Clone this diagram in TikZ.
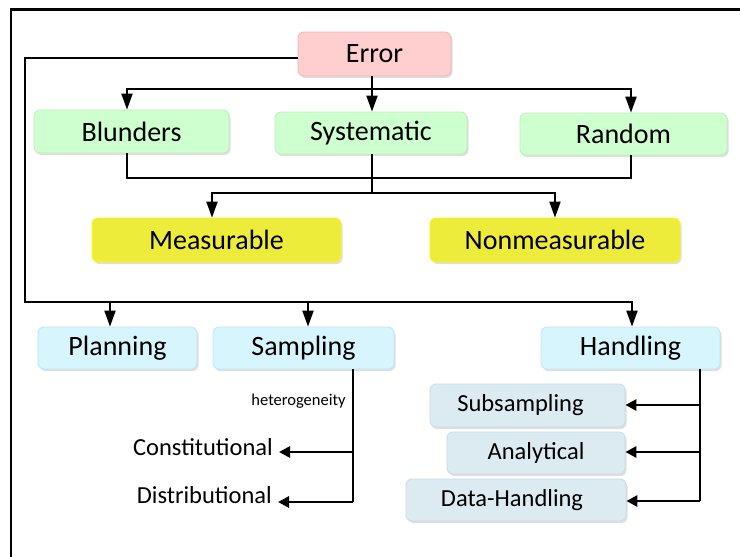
\documentclass[tikz,border=0pt]{standalone}
\usepackage{fontspec}
\setmainfont{Carlito}
\usetikzlibrary{arrows.meta,shadows}

\definecolor{errfill}{RGB}{255,206,206}
\definecolor{errdraw}{RGB}{240,180,180}
\definecolor{grnfill}{RGB}{206,255,206}
\definecolor{grndraw}{RGB}{190,235,190}
\definecolor{yelfill}{RGB}{238,236,58}
\definecolor{yeldraw}{RGB}{250,245,20}
\definecolor{cyafill}{RGB}{214,245,253}
\definecolor{cyadraw}{RGB}{195,230,240}
\definecolor{subfill}{RGB}{220,235,241}
\definecolor{subdraw}{RGB}{200,220,228}

\tikzset{
  box/.style={rectangle, rounded corners=6pt, inner sep=0pt, line width=0.8pt,
    drop shadow={shadow xshift=1.5pt, shadow yshift=-2pt, opacity=0.25},
    font=\fontsize{28}{30}\selectfont},
  errbox/.style={box, fill=errfill, draw=errdraw},
  grnbox/.style={box, fill=grnfill, draw=grndraw},
  yelbox/.style={box, fill=yelfill, draw=yeldraw},
  cyabox/.style={box, fill=cyafill, draw=cyadraw},
  subbox/.style={box, fill=subfill, draw=subdraw, font=\fontsize{24.5}{26}\selectfont},
  plain/.style={inner sep=0pt, font=\fontsize{24.5}{26}\selectfont},
  line/.style={line width=2pt},
  arr/.style={line width=2pt, -{Triangle[length=16pt,width=11pt]}},
  harr/.style={line width=2.8pt, -{Triangle[length=11pt,width=11pt]}},
}

\begin{document}
\begin{tikzpicture}[x=1pt, y=-1pt]
\useasboundingbox (0,0) rectangle (740,557);
\fill[white] (0,0) rectangle (740,557);

% outer frame
\draw[line width=2.2pt] (11,557) -- (11,9.5) -- (740,9.5);

% boxes
\node[errbox, minimum width=153pt, minimum height=44pt] (err) at (374.5,54) {Error};

\node[grnbox, minimum width=195pt, minimum height=43pt] (blu) at (131.5,131.5) {Blunders};
\node[grnbox, minimum width=192pt, minimum height=42pt] (sys) at (371,133) {Systematic};
\node[grnbox, minimum width=207pt, minimum height=42pt] (ran) at (623.5,134) {Random};

\node[yelbox, minimum width=249pt, minimum height=44pt] (mea) at (216.5,240) {Measurable};
\node[yelbox, minimum width=250pt, minimum height=44pt] (non) at (555,240) {Nonmeasurable};

\node[cyabox, minimum width=159pt, minimum height=42pt] (pla) at (117.5,348) {Planning};
\node[cyabox, minimum width=181pt, minimum height=42pt] (sam) at (303.5,348) {Sampling};
\node[cyabox, minimum width=179pt, minimum height=42pt] (han) at (630.5,348) {Handling};

\node[subbox, minimum width=195pt, minimum height=43pt] (sub) at (527.5,405.5) {Subsampling\kern14pt};
\node[subbox, minimum width=178pt, minimum height=42pt] (ana) at (536,453) {Analytical};
\node[subbox, minimum width=220pt, minimum height=42pt] (dat) at (516,500) {Data-Handling\kern8pt};

\node[plain, anchor=east] (con) at (273,447) {Constitutional};
\node[plain, anchor=east] (dis) at (272,495) {Distributional};
\node[inner sep=0pt, font=\fontsize{16.5}{18}\selectfont] (het) at (298.5,401) {heterogeneity};

% Error to the three kinds of error
\coordinate (eA) at (372,89);
\coordinate (eB) at (127,89);
\coordinate (eC) at (631,89);
\draw[line] (err.south -| eA) -- (eA);
\draw[arr] (eA) -- (eA |- sys.north);
\draw[arr] (eA) -- (eB) -- (eB |- blu.north);
\draw[arr] (eA) -- (eC) -- (eC |- ran.north);

% kinds of error to measurable / nonmeasurable
\coordinate (kA) at (127,178);
\coordinate (kB) at (631,178);
\coordinate (kC) at (372,193);
\coordinate (kD) at (212,193);
\coordinate (kE) at (555,193);
\draw[line] (blu.south -| kA) -- (kA) -- (kB) -- (ran.south -| kB);
\draw[line] (sys.south -| kC) -- (kC);
\draw[arr] (kC) -- (kD) -- (kD |- mea.north);
\draw[arr] (kC) -- (kE) -- (kE |- non.north);

% Error to planning, sampling and handling
\coordinate (pA) at (25,58);
\coordinate (pB) at (25,302);
\coordinate (pC) at (110,302);
\coordinate (pD) at (308,302);
\coordinate (pE) at (632,302);
\draw[line] (err.west |- pA) -- (pA) -- (pB) -- (pD);
\draw[arr] (pB) -- (pC) -- (pC |- pla.north);
\draw[arr] (pC) -- (pD) -- (pD |- sam.north);
\draw[arr] (pD) -- (pE) -- (pE |- han.north);

% sampling heterogeneity
\coordinate (sA) at (353,452);
\coordinate (sB) at (353,502);
\draw[line width=1.6pt] (sam.south -| sA) -- (sB);
\draw[harr] (sA) -- ([xshift=6pt]con.east |- sA);
\draw[harr] (sB) -- ([xshift=6pt]dis.east |- sB);

% handling branches
\coordinate (hA) at (700,405);
\coordinate (hB) at (700,452);
\coordinate (hC) at (700,501);
\draw[line width=1.6pt] (han.south -| hA) -- (hC);
\draw[harr] (hA) -- (sub.east |- hA);
\draw[harr] (hB) -- (ana.east |- hB);
\draw[harr] (hC) -- (dat.east |- hC);
\end{tikzpicture}
\end{document}
